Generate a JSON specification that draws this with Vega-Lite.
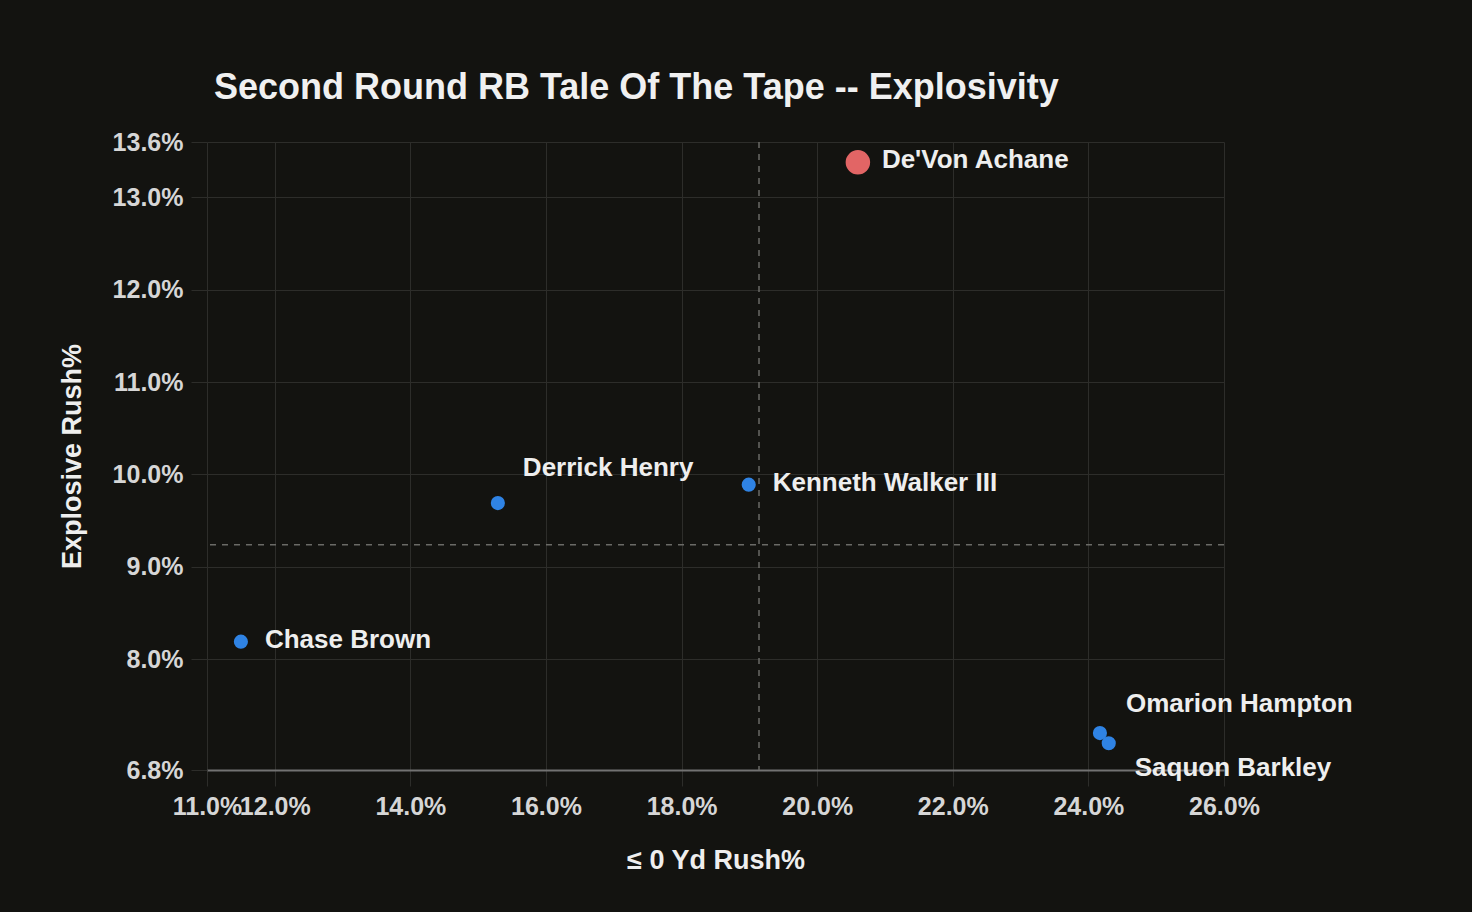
{
  "$schema": "https://vega.github.io/schema/vega-lite/v6.json",
  "autosize": {"type": "none"},
  "width": 1017,
  "height": 628,
  "padding": {"left": 207, "top": 142, "right": 248, "bottom": 142},
  "background": "#131310",
  "config": {
    "view": {"stroke": null},
    "font": "Liberation Sans",
    "axis": {
      "labelFont": "Liberation Sans",
      "labelFontSize": 25,
      "labelFontWeight": "bold",
      "labelColor": "#d6d6d6",
      "labelOverlap": false,
      "labelFlush": false,
      "titleFont": "Liberation Sans",
      "titleFontSize": 27,
      "titleFontWeight": "bold",
      "titleColor": "#eeeeee",
      "gridColor": "#2d2d2a",
      "gridWidth": 1,
      "gridOpacity": 1,
      "tickColor": "#2d2d2a",
      "tickWidth": 1,
      "tickSize": 16
    }
  },
  "title": {
    "text": "Second Round RB Tale Of The Tape -- Explosivity",
    "anchor": "start",
    "frame": "group",
    "dx": 7,
    "offset": 23,
    "font": "Liberation Sans",
    "fontSize": 36,
    "fontWeight": "bold",
    "color": "#f0f0f0"
  },
  "data": {
    "values": [
      {"player": "De'Von Achane", "noGain": 0.2060, "explosive": 0.1338},
      {"player": "Kenneth Walker III", "noGain": 0.1899, "explosive": 0.0989},
      {"player": "Derrick Henry", "noGain": 0.1529, "explosive": 0.0969},
      {"player": "Chase Brown", "noGain": 0.1150, "explosive": 0.0819},
      {"player": "Omarion Hampton", "noGain": 0.2417, "explosive": 0.0720},
      {"player": "Saquon Barkley", "noGain": 0.2430, "explosive": 0.0709}
    ]
  },
  "layer": [
    {
      "mark": {"type": "point", "filled": true, "opacity": 1, "size": 200, "color": "#2f83e4", "shape": "circle"},
      "transform": [{"filter": "datum.player !== \"De'Von Achane\""}],
      "encoding": {
        "x": {
          "field": "noGain",
          "type": "quantitative",
          "scale": {"domain": [0.11, 0.26], "nice": false, "zero": false},
          "axis": {
            "title": "≤ 0 Yd Rush%",
            "format": ".1%",
            "values": [0.11, 0.12, 0.14, 0.16, 0.18, 0.20, 0.22, 0.24, 0.26],
            "domain": true,
            "domainColor": "#727272",
            "domainWidth": 2,
            "labelPadding": 8,
            "titlePadding": 28
          }
        },
        "y": {
          "field": "explosive",
          "type": "quantitative",
          "scale": {"domain": [0.068, 0.136], "nice": false, "zero": false},
          "axis": {
            "title": "Explosive Rush%",
            "format": ".1%",
            "values": [0.068, 0.08, 0.09, 0.10, 0.11, 0.12, 0.13, 0.136],
            "domain": false,
            "labelPadding": 8,
            "titlePadding": 26
          }
        }
      }
    },
    {
      "mark": {"type": "rule", "strokeDash": [6, 6], "strokeWidth": 1.5, "color": "#6a6a66"},
      "encoding": {
        "x": {"aggregate": "mean", "field": "noGain", "type": "quantitative", "title": "≤ 0 Yd Rush%"}
      }
    },
    {
      "mark": {"type": "rule", "strokeDash": [6, 6], "strokeWidth": 1.5, "color": "#6a6a66"},
      "encoding": {
        "y": {"aggregate": "mean", "field": "explosive", "type": "quantitative", "title": "Explosive Rush%"}
      }
    },
    {
      "mark": {"type": "point", "filled": true, "opacity": 1, "size": 600, "color": "#e26565", "shape": "circle"},
      "transform": [{"filter": "datum.player === \"De'Von Achane\""}],
      "encoding": {
        "x": {"field": "noGain", "type": "quantitative", "title": "≤ 0 Yd Rush%"},
        "y": {"field": "explosive", "type": "quantitative", "title": "Explosive Rush%"}
      }
    },
    {
      "mark": {"type": "text", "align": "left", "baseline": "middle", "dx": 24, "dy": -2, "fontSize": 26, "fontWeight": "bold", "font": "Liberation Sans", "color": "#eeeeee"},
      "transform": [{"filter": {"field": "player", "oneOf": ["De'Von Achane", "Kenneth Walker III", "Chase Brown"]}}],
      "encoding": {
        "x": {"field": "noGain", "type": "quantitative", "title": "≤ 0 Yd Rush%"},
        "y": {"field": "explosive", "type": "quantitative", "title": "Explosive Rush%"},
        "text": {"field": "player"}
      }
    },
    {
      "mark": {"type": "text", "align": "left", "baseline": "middle", "dx": 25, "dy": -35, "fontSize": 26, "fontWeight": "bold", "font": "Liberation Sans", "color": "#eeeeee"},
      "transform": [{"filter": {"field": "player", "equal": "Derrick Henry"}}],
      "encoding": {
        "x": {"field": "noGain", "type": "quantitative", "title": "≤ 0 Yd Rush%"},
        "y": {"field": "explosive", "type": "quantitative", "title": "Explosive Rush%"},
        "text": {"field": "player"}
      }
    },
    {
      "mark": {"type": "text", "align": "left", "baseline": "middle", "dx": 26, "dy": -29, "fontSize": 26, "fontWeight": "bold", "font": "Liberation Sans", "color": "#eeeeee"},
      "transform": [{"filter": {"field": "player", "equal": "Omarion Hampton"}}],
      "encoding": {
        "x": {"field": "noGain", "type": "quantitative", "title": "≤ 0 Yd Rush%"},
        "y": {"field": "explosive", "type": "quantitative", "title": "Explosive Rush%"},
        "text": {"field": "player"}
      }
    },
    {
      "mark": {"type": "text", "align": "left", "baseline": "middle", "dx": 26, "dy": 25, "fontSize": 26, "fontWeight": "bold", "font": "Liberation Sans", "color": "#eeeeee"},
      "transform": [{"filter": {"field": "player", "equal": "Saquon Barkley"}}],
      "encoding": {
        "x": {"field": "noGain", "type": "quantitative", "title": "≤ 0 Yd Rush%"},
        "y": {"field": "explosive", "type": "quantitative", "title": "Explosive Rush%"},
        "text": {"field": "player"}
      }
    }
  ]
}
